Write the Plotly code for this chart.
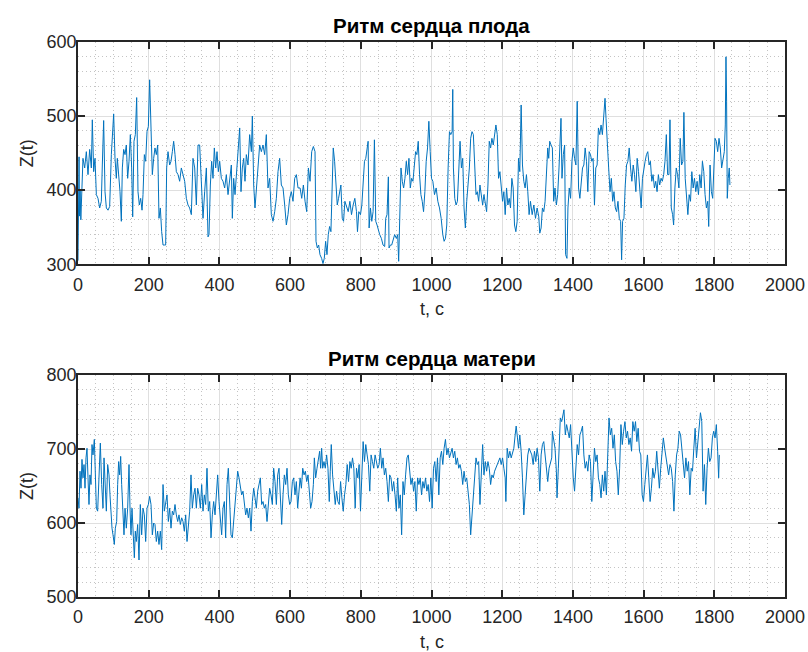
import plotly.graph_objects as go
from plotly.subplots import make_subplots

# ---- Fetal heart rhythm (top) ----
fetal_t = [0, 1, 2, 3, 4, 6, 8, 10, 14.1, 18.9, 23.6, 28.3, 33.0, 37.7, 40.5, 44.3, 48.1, 51.9, 56.6, 61.3, 66.0, 68.8, 72.6, 76.4,
           80.2, 84.9, 89.6, 94.3, 97.1, 100.9, 104.7, 108.4, 111.3, 115.0, 118.8, 122.6, 125.4, 129.2, 133.0, 136.7, 140.5,
           144.3, 148.1, 151.8, 154.7, 158.4, 162.2, 166.0, 169.7, 173.5, 177.3, 181.1, 183.9, 187.7, 191.4, 195.2, 199.0,
           202.7, 206.5, 210.3, 214.1, 217.8, 221.6, 225.4, 229.1, 232.9, 236.7, 240.5, 244.2, 248.0, 250.8, 254.6, 259.3,
           263.1, 266.9, 270.6, 274.4, 278.2, 282.9, 287.6, 292.3, 297.0, 301.8, 306.5, 311.2, 315.9, 320.6, 325.3, 330.1,
           334.8, 339.5, 344.2, 348.9, 353.6, 358.3, 363.1, 367.8, 370.6, 374.4, 378.1, 381.9, 385.7, 389.5, 393.2, 397.0,
           400.8, 405.5, 410.2, 414.9, 419.6, 424.4, 429.1, 433.8, 436.6, 440.4, 444.2, 447.9, 452.6, 457.4, 461.1, 464.9,
           468.7, 472.4, 476.2, 480.9, 485.6, 490.4, 493.2, 497.0, 500.7, 504.5, 509.2, 513.9, 518.7, 523.4, 528.1, 532.8,
           537.5, 542.2, 546.9, 551.7, 556.4, 561.1, 565.8, 570.5, 575.2, 580.0, 584.7, 589.4, 594.1, 598.8, 603.5, 608.2,
           613.0, 617.7, 622.4,
           628.2, 632.9, 637.6, 642.3, 647.0, 651.7, 656.4, 661.1, 665.8, 670.5, 673.3, 677.0, 680.8, 684.5, 689.2, 693.0,
           696.7, 700.5, 704.3, 708.0, 711.8, 715.5, 719.3, 722.1, 725.9, 729.6, 733.4, 737.1, 740.9, 743.7, 747.5, 751.2,
           755.0, 759.7, 764.4, 769.1, 773.7, 778.4, 783.1, 787.8, 790.6, 794.4, 799.1, 802.9, 806.6, 810.4, 814.1, 817.9,
           820.7, 823.5, 827.3, 831.0, 834.8, 838.5, 842.3, 846.0, 849.8, 853.5, 858.2, 862.9, 867.6, 870.5, 874.2, 878.0,
           879.9, 883.6, 887.4, 891.1, 895.8, 900.5, 904.3, 907.1, 909.9, 913.7, 917.4, 921.2, 924.9, 928.7, 932.4, 936.2,
           940.0, 943.7, 947.5, 951.2, 955.0, 958.7, 962.5, 966.2, 970.0, 973.8, 977.5, 981.3, 985.0, 988.8, 992.5, 996.3,
           1000.0, 1003.8, 1008.5, 1013.2, 1017.9, 1022.6, 1027.3, 1032.0, 1035.7, 1039.5, 1043.2, 1047.0, 1050.8, 1054.5,
           1058.3, 1060.1, 1062.0, 1065.8, 1069.5, 1073.3, 1077.0, 1080.8, 1084.6, 1088.3, 1092.1, 1095.8, 1099.6, 1103.3,
           1107.1, 1110.8, 1114.6, 1118.4, 1122.1, 1125.9, 1129.6, 1133.4, 1137.1, 1140.9, 1144.7, 1148.4, 1152.2, 1155.9,
           1159.7, 1163.4, 1167.2, 1170.9, 1174.7, 1178.5, 1182.2, 1186.0, 1189.7, 1193.5, 1197.2, 1201.0, 1204.7, 1208.5,
           1212.3, 1216.0, 1219.8, 1223.5, 1227.3, 1231.0, 1234.8, 1238.6, 1242.3, 1246.1, 1249.8, 1253.6, 1257.3, 1261.1,
           1264.8, 1268.6, 1272.4, 1276.1, 1279.9,
           1284.8, 1289.5, 1294.2, 1298.8, 1303.5, 1306.3, 1310.1, 1313.8, 1317.6, 1321.3, 1325.1, 1328.8, 1331.6, 1334.4,
           1338.2, 1341.9, 1345.7, 1349.4, 1353.2, 1356.9, 1360.7, 1363.5, 1366.3, 1369.1, 1372.9, 1376.6, 1379.4, 1383.2,
           1386.0, 1389.7, 1393.5, 1397.2, 1401.0, 1404.7, 1408.5, 1412.2, 1416.0, 1419.7, 1423.5, 1427.2, 1431.0, 1434.7,
           1438.5, 1442.2, 1446.0, 1449.7, 1453.5, 1457.2, 1461.0, 1464.7, 1468.5, 1472.2, 1476.0, 1479.7, 1483.4, 1487.2,
           1490.9, 1493.7, 1497.5, 1501.2, 1505.0, 1508.7, 1512.5, 1516.2, 1520.0, 1523.7, 1527.5, 1531.2, 1535.0, 1537.8,
           1540.6, 1544.4, 1548.1, 1551.8, 1555.6, 1559.3, 1563.1, 1566.8, 1570.6, 1574.3, 1578.1, 1581.8, 1585.6, 1589.3,
           1593.1, 1596.8, 1600.6, 1604.3, 1608.1, 1611.8, 1615.6, 1619.3, 1623.1, 1626.8, 1630.6, 1634.3, 1638.1, 1641.8,
           1645.5, 1649.3, 1653.0, 1656.8, 1660.5, 1664.3, 1668.0, 1671.8, 1674.6, 1678.3, 1682.1, 1684.9, 1688.6, 1692.4,
           1696.1, 1699.9, 1703.6, 1707.4, 1711.2, 1714.0, 1717.7, 1721.4, 1725.2, 1728.9, 1732.7, 1736.4, 1740.2, 1743.9,
           1747.7, 1751.4, 1755.2, 1758.9, 1762.7, 1766.4, 1770.2, 1773.9, 1777.7, 1781.4, 1784.2, 1788.0, 1791.7, 1795.5,
           1798.3, 1802.0, 1805.8, 1809.5, 1813.3, 1817.0, 1820.8, 1824.5, 1828.3, 1831.1, 1833.0, 1834.8, 1836.7, 1839.5,
           1842.3, 1844.2]
fetal_z = [305, 430, 355, 445, 365, 400, 360, 395, 443, 430, 452, 421, 455, 430, 495, 425, 443, 394, 389, 376, 385, 434, 494, 398,
           376, 373, 378, 448, 475, 503, 443, 416, 443, 421, 398, 358, 430, 455, 448, 461, 416,
           439, 475, 430, 364, 466, 475, 525, 398, 380, 389, 373, 394, 448, 439, 479, 486,
           549, 466, 421, 443, 457, 448, 461, 362, 376, 344, 326, 326, 326, 430, 452, 434,
           439, 452, 466, 448, 425, 421, 412, 430, 421, 412, 389, 380, 376, 367, 443, 430,
           380, 461, 461, 407, 362, 398, 430, 337, 340, 407, 439, 416, 457, 430, 452, 425,
           439, 416, 412, 403, 421, 394, 412, 434, 362, 416, 394, 421, 461, 484, 398, 430,
           443, 412, 448, 434, 475, 452, 500, 407, 376, 398, 425, 461, 452, 461, 448, 475,
           403, 416, 367, 358, 371, 389, 425, 443, 407, 403, 380, 353, 367, 389, 398, 385,
           416, 421, 403,
           403, 389, 407, 385, 371, 430, 412, 452, 459, 452, 331, 322, 326, 313, 308, 301,
           308, 331, 313, 340, 351, 344, 434, 457, 439, 403, 380, 389, 398, 407, 362, 358,
           385, 376, 371, 385, 367, 380, 389, 371, 344, 371, 367, 380, 403, 439, 443, 457,
           466, 349, 376, 358, 371, 468, 358, 353, 344, 340, 335, 326, 324, 362, 367, 418,
           322, 326, 326, 331, 340, 335, 340, 304, 380, 430, 412, 403, 416, 439, 421, 443,
           403, 416, 412, 430, 452, 448, 466, 421, 394, 385, 371, 398, 439, 457, 493, 452,
           416, 412, 394, 403, 385, 376, 362, 340, 331, 335, 353, 430, 479, 475,
           479, 536, 430, 389, 380, 385, 439, 466, 430, 443, 376, 349, 385, 403,
           430, 470, 479, 475, 421, 394, 398, 385, 407, 389, 380, 394, 380, 371,
           407, 466, 457, 470, 461, 475, 488, 475, 416, 425, 403, 385, 398, 367,
           403, 380, 389, 376, 416, 403, 353, 344, 358, 443, 425, 515, 434, 412,
           403, 421, 398, 367, 385,
           367, 380, 362, 376, 364, 342, 349, 376, 371, 385, 421, 457, 443, 466,
           461, 457, 385, 403, 380, 394, 430, 461, 497, 416, 448, 461, 313, 308,
           376, 403, 389, 439, 457, 443, 434, 520, 403, 389, 416, 430, 434, 457,
           439, 398, 452, 448, 439, 443, 380, 430, 434, 484, 475, 488, 475, 497,
           524, 497, 470, 430, 398, 416, 385, 398, 376, 371, 385, 362, 358, 306,
           358, 362, 407, 434, 439, 457, 430, 412, 434, 421, 398, 443, 425, 403,
           376, 416, 430, 439, 448, 452, 434, 439, 412, 421, 403, 412, 398, 421,
           407, 416, 412, 421, 439, 475, 421, 421, 495, 376, 367, 353, 403, 430,
           421, 403, 470, 434, 439, 505, 416, 385, 367, 394, 385, 425, 403, 416,
           398, 412, 394, 421, 403, 439, 425, 394, 376, 385, 351, 434, 398, 389,
           416, 470, 466, 452, 470, 457, 430, 443, 452, 488, 580, 520, 389, 416,
           430, 407]

# ---- Maternal heart rhythm (bottom) ----
mother_t = [0, 2.8, 5.7, 8.5, 11.3, 14.1, 17.0, 19.8, 22.6, 25.5, 28.3, 31.1, 33.9, 36.8, 39.6, 42.4, 46.2, 49.0, 51.9, 55.6,
            59.4, 63.2, 67.0, 70.7, 73.6, 76.4, 80.2, 83.9, 87.7, 90.5, 93.4, 96.2, 99.0, 102.8, 105.6, 109.4, 112.2, 115.0,
            117.9, 120.7, 123.5, 127.3, 130.1, 133.0, 136.7, 140.5, 144.3, 147.1, 149.9, 152.8, 155.6, 159.4, 162.2, 165.0,
            168.8, 172.6, 176.3, 180.1, 183.9, 187.7, 191.4, 195.2, 199.0, 202.7, 206.5, 210.3, 214.1, 217.8, 221.6, 225.4,
            229.1, 232.9, 236.7, 240.5, 244.2, 248.0, 251.8, 255.6, 259.3, 263.1, 266.9, 270.6, 274.4, 278.2, 282.0, 285.7,
            289.5, 293.3, 297.0, 300.8, 304.6, 308.4, 312.1, 315.9, 319.7, 323.4, 327.2, 331.0, 334.8, 338.5, 342.3, 346.1,
            349.9, 353.6, 357.4, 361.2, 364.9, 368.7, 372.5, 376.3, 380.0, 383.8, 387.6, 391.3, 395.1, 398.9, 402.7, 406.4,
            410.2, 414.0, 417.7, 421.5, 425.3, 429.1, 432.8, 436.6, 440.4, 444.2, 447.9, 451.7, 455.5, 459.2, 463.0, 466.8,
            470.6, 474.3, 478.1, 481.9, 485.6, 489.4, 493.2, 497.0, 500.7, 504.5, 508.3, 512.1, 515.8, 519.6, 523.4, 527.1,
            530.9, 534.7, 538.5, 542.2, 546.0, 549.8, 553.5, 557.3, 561.1, 564.9, 568.6, 572.4, 576.2, 580.0, 583.7, 587.5,
            591.3, 595.0, 598.8, 602.6, 606.4, 610.1, 613.9, 617.7, 621.4,
            628.2, 632.0, 635.7, 639.5, 643.2, 647.0, 650.7, 654.5, 658.2, 662.0, 665.8, 668.6, 672.3, 676.1, 679.8, 683.6,
            686.4, 689.2, 692.1, 695.8, 699.6, 703.3, 707.1, 710.8, 713.6, 716.5, 720.2, 724.0, 727.7, 731.5, 735.2, 739.0,
            742.8, 746.5, 750.3, 754.0, 757.8, 761.5, 765.3, 769.1, 772.8, 776.6, 780.3, 784.1, 787.8, 791.6, 795.3, 799.1,
            802.9, 806.6, 810.4, 814.1, 817.9, 821.6, 825.4, 829.1, 832.9, 836.7, 840.4, 844.2, 847.9, 851.7, 855.4, 859.2,
            862.9, 866.7, 870.5, 874.2, 878.0, 881.7, 885.5, 889.2, 893.0, 896.8, 900.5, 904.3, 908.0, 911.8, 915.5, 919.3,
            923.0, 926.8, 930.6, 934.3, 938.1, 941.8, 945.6, 949.3, 953.1, 956.9, 960.6, 964.4, 968.1, 971.9, 975.6, 979.4,
            983.1, 986.9, 990.7, 994.4, 998.2, 1001.9, 1005.7, 1009.4, 1013.2, 1017.0, 1020.7, 1024.5, 1028.2, 1032.0, 1035.7,
            1039.5, 1043.2, 1047.0, 1050.8, 1054.5, 1058.3, 1062.0, 1065.8, 1069.5, 1073.3, 1077.0, 1080.8, 1084.6, 1088.3,
            1092.1, 1095.8, 1099.6, 1103.3, 1107.1, 1110.8, 1114.6, 1118.4, 1122.1, 1125.9, 1129.6, 1133.4, 1137.1, 1140.9,
            1144.7, 1148.4, 1152.2, 1155.9, 1159.7, 1163.4, 1167.2, 1170.9, 1174.7, 1178.5, 1182.2, 1186.0, 1189.7, 1193.5,
            1197.2, 1201.0, 1204.7, 1208.5, 1210.4, 1214.1, 1217.9, 1221.6, 1225.4, 1229.2, 1232.9, 1236.7, 1239.5, 1243.2,
            1246.1, 1249.8, 1253.6, 1257.3, 1261.1, 1264.8, 1268.6, 1272.4, 1276.1,
            1283.8, 1287.6, 1291.3, 1295.1, 1298.8, 1302.6, 1306.3, 1310.1, 1313.8, 1317.6, 1321.3, 1325.1, 1328.8, 1332.6,
            1336.3, 1340.1, 1342.0, 1345.7, 1349.4, 1353.2, 1355.1, 1358.8, 1362.6, 1364.4, 1368.2, 1371.9, 1374.7, 1378.5,
            1382.2, 1386.0, 1389.7, 1393.5, 1397.2, 1401.0, 1404.7, 1408.5, 1412.2, 1416.0, 1419.7, 1423.5, 1427.2, 1431.0,
            1434.7, 1438.5, 1442.2, 1446.0, 1449.7, 1453.5, 1457.2, 1461.0, 1464.7, 1468.5, 1472.2, 1476.0, 1479.7, 1483.4,
            1487.2, 1490.9, 1494.7, 1498.4, 1502.2, 1505.9, 1509.7, 1513.4, 1517.2, 1520.9, 1524.7, 1528.4, 1532.2, 1535.9,
            1539.7, 1543.4, 1547.2, 1550.9, 1554.6, 1558.4, 1562.1, 1565.9, 1569.6, 1573.4, 1577.1, 1580.9, 1584.6, 1588.4,
            1592.1, 1595.9, 1599.6, 1603.4, 1607.1, 1610.9, 1614.6, 1618.4, 1622.1, 1625.9, 1629.6, 1633.4, 1637.1, 1640.9,
            1644.6, 1648.4, 1652.1, 1655.8, 1659.6, 1663.3, 1667.1, 1670.8, 1674.6, 1678.3, 1682.1, 1685.8, 1689.6, 1693.3,
            1697.1, 1700.8, 1704.6, 1708.3, 1712.1, 1715.8, 1719.6, 1723.3, 1727.1, 1730.8, 1734.6, 1738.3, 1742.1, 1745.8,
            1749.6, 1753.3, 1757.1, 1760.8, 1764.6, 1768.3, 1772.1, 1775.8, 1779.6, 1783.3, 1787.1, 1790.8, 1794.6, 1798.3,
            1802.1, 1805.8, 1809.5, 1812.3, 1814.2]
mother_z = [634, 620, 670, 647, 686, 661, 679, 647, 688, 701, 661, 625, 665, 652, 706, 692, 713, 674, 620, 616,
            665, 708, 652, 620, 688, 661, 616, 679, 665, 638, 611, 593, 584, 571, 593, 602, 652, 683,
            665, 690, 652, 602, 584, 620, 593, 620, 679, 620, 584, 620, 584, 553, 589, 575,
            598, 550, 625, 584, 620, 611, 575, 620, 625, 636, 625, 584, 600, 598, 575, 589,
            571, 589, 564, 652, 616, 629, 638, 602, 620, 593, 616, 611, 625, 611, 602, 611,
            598, 607, 602, 589, 611, 575, 598, 616, 665, 620, 638, 647, 620, 647, 638, 620,
            652, 616, 638, 625, 674, 616, 629, 580, 611, 629, 611, 638, 665, 629, 602, 584,
            620, 629, 580, 652, 674, 611, 584, 580, 602, 620, 643, 670, 661, 652, 638, 643,
            625, 611, 620, 607, 620, 589, 629, 647, 634, 620, 643, 652, 661, 625, 629, 620,
            625, 602, 629, 647, 638, 625, 674, 656, 625, 665, 674, 638, 598, 638, 665, 652,
            674, 638, 625, 629, 656, 661, 638, 656, 620,
            661, 647, 674, 665, 670, 656, 665, 638, 620, 629, 652, 688, 661, 674, 683, 697,
            674, 701, 674, 683, 674, 692, 674, 629, 670, 706, 665, 638, 625, 643, 629, 625,
            656, 634, 616, 638, 652, 679, 656, 683, 674, 688, 674, 620, 674, 661, 679, 616,
            670, 710, 683, 706, 692, 679, 643, 692, 683, 674, 692, 683, 674, 679, 701, 674,
            688, 665, 674, 656, 629, 665, 661, 643, 656, 638, 616, 661, 620, 638, 584, 656,
            638, 665, 688, 692, 665, 652, 661, 643, 656, 616, 661, 652, 661, 638, 656, 647,
            661, 643, 652, 629, 661, 620, 674, 683, 656, 688, 638, 688, 697, 679, 701,
            713, 692, 701, 688, 697, 701, 688, 697, 679, 688, 674, 679, 670, 652,
            670, 656, 661, 643, 625, 584, 611, 643, 665, 688, 679, 683, 625, 674,
            706, 665, 683, 670, 683, 674, 652, 665, 661, 670, 674, 679, 683, 688,
            679, 688, 674, 661, 629, 701, 688, 697, 688, 697, 701, 719, 731, 715,
            701, 719, 697, 661, 611, 638, 670, 692, 701,
            692, 679, 697, 683, 701, 688, 643, 692, 706, 710, 692, 674, 656, 674,
            683, 688, 724, 715, 701, 670, 634, 674, 710, 742, 737, 746, 753, 719,
            733, 724, 715, 733, 688, 661, 643, 674, 706, 692, 719, 724, 731, 692,
            674, 683, 670, 692, 683, 629, 674, 701, 683, 692, 661, 652, 634, 665,
            643, 670, 638, 679, 742, 719, 728, 701, 719, 683, 670, 638, 674, 733,
            706, 724, 737, 715, 724, 706, 715, 697, 737, 724, 737, 710, 728, 697,
            692, 638, 629, 652, 674, 692, 661, 629, 647, 674, 661, 670, 697, 674,
            647, 674, 701, 715, 701, 688, 679, 665, 679, 674, 656, 616, 665, 692,
            701, 724, 719, 701, 674, 661, 688, 670, 683, 638, 674, 670, 701, 728,
            688, 706, 728, 749, 737, 643, 679, 625, 674, 701, 683, 688, 715, 724,
            715, 733, 697, 661, 692]

titles = ["Ритм сердца плода", "Ритм сердца матери"]
x_label = "t, c"
y_label = "Z(t)"
x_range = [0, 2000]
x_ticks = list(range(0, 2001, 200))
fetal_range = [300, 600]
fetal_ticks = [300, 400, 500, 600]
mother_range = [500, 800]
mother_ticks = [500, 600, 700, 800]

LINE = "#0072BD"
AXC = "#262626"
FONT = "Liberation Sans, Arial, Helvetica, sans-serif"

fig = make_subplots(rows=2, cols=1)
fig.add_trace(go.Scatter(x=fetal_t, y=fetal_z, mode="lines",
                         line=dict(color=LINE, width=1), showlegend=False), row=1, col=1)
fig.add_trace(go.Scatter(x=mother_t, y=mother_z, mode="lines",
                         line=dict(color=LINE, width=1), showlegend=False), row=2, col=1)

common_axis = dict(
    showline=True, linecolor=AXC, linewidth=1.6, mirror="allticks",
    ticks="inside", ticklen=7, tickwidth=1.6, tickcolor=AXC,
    showgrid=True, gridcolor="#dfdfdf", gridwidth=1,
    zeroline=False, automargin=False,
    tickfont=dict(family=FONT, size=18, color=AXC),
)
minor_grid = dict(showgrid=True, gridcolor="#c4c4c4", griddash="1px,3px", gridwidth=1, ticks="")

for r, (yr, yt) in enumerate([(fetal_range, fetal_ticks), (mother_range, mother_ticks)], start=1):
    fig.update_xaxes(range=x_range, tickvals=x_ticks, row=r, col=1,
                     minor=dict(dtick=50, **minor_grid), ticklabelstandoff=3, **common_axis)
    fig.update_yaxes(range=yr, tickvals=yt, row=r, col=1,
                     minor=dict(dtick=20, **minor_grid), ticklabelstandoff=-4, **common_axis)

fig.update_layout(
    width=808, height=652,
    margin=dict(l=78, r=23, t=42, b=55),
    paper_bgcolor="white", plot_bgcolor="white",
    font=dict(family=FONT, color=AXC),
    showlegend=False,
)

fig.update_yaxes(domain=[0.5995, 1.0], row=1, col=1)
fig.update_yaxes(domain=[0.0, 0.4], row=2, col=1)

for i, ttl in enumerate(titles):
    sx = "x" if i == 0 else "x2"
    sy = "y" if i == 0 else "y2"
    fig.add_annotation(text="<b>%s</b>" % ttl, xref=sx + " domain", yref=sy + " domain", x=0.5, y=1.0,
                       yanchor="bottom", yshift=3, showarrow=False,
                       font=dict(family=FONT, size=20.5, color="black"))
    fig.add_annotation(text=x_label, xref=sx + " domain", yref=sy + " domain", x=0.5, y=0.0,
                       yanchor="middle", yshift=-45, showarrow=False,
                       font=dict(family=FONT, size=18, color=AXC))
    fig.add_annotation(text=y_label, xref=sx + " domain", yref=sy + " domain", x=0.0, y=0.5,
                       xanchor="center", xshift=-51, textangle=-90, showarrow=False,
                       font=dict(family=FONT, size=18, color=AXC))

fig.write_html("out.html", config={"displayModeBar": False},
               post_script="document.body.style.margin='0';document.body.style.overflow='hidden';")
